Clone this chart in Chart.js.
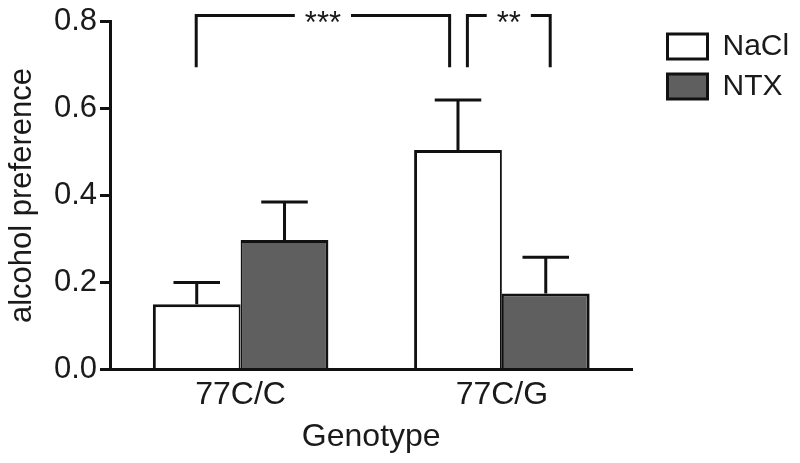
<!DOCTYPE html>
<html lang="en">
<head>
<meta charset="UTF-8">
<title>alcohol preference</title>
<script src="https://cdn.jsdelivr.net/npm/chart.js@4"></script>
<style>
  body { margin: 0; background: #fff; }
  #wrap { width: 800px; height: 463px; }
</style>
</head>
<body>
<div id="wrap"><canvas id="myChart" width="800" height="463"></canvas></div>

<script>
// values
const genotypes = ['77C/C', '77C/G'];
const nacl_mean = [0.150, 0.505];
const nacl_err  = [0.050, 0.115];
const ntx_mean  = [0.298, 0.175];
const ntx_err   = [0.087, 0.083];
const y_ticks   = [0.0, 0.2, 0.4, 0.6, 0.8];

// significance brackets (x in category-index units, y in data units)
const br_from = [-0.17, 0.868];
const br_to   = [0.80, 1.185];
const br_top  = [0.814, 0.814];
const br_foot = [0.695, 0.695];
const br_text = ['***', '**'];

const INK = '#111';
const TXT = '#1a1a1a';
Chart.defaults.font.family = '"Liberation Sans", Arial, Helvetica, sans-serif';

// only upward error bars, with caps
const errorBars = {
    id: 'errorBars',
    afterDatasetsDraw(chart) {
        const ctx = chart.ctx, y = chart.scales.y;
        const errs = [nacl_err, ntx_err];
        ctx.save();
        ctx.strokeStyle = INK;
        ctx.lineWidth = 3;
        chart.data.datasets.forEach((ds, i) => {
            chart.getDatasetMeta(i).data.forEach((bar, j) => {
                const top = y.getPixelForValue(ds.data[j] + errs[i][j]);
                const half = bar.width * 0.265;
                ctx.beginPath();
                ctx.moveTo(bar.x, bar.y);
                ctx.lineTo(bar.x, top);
                ctx.moveTo(bar.x - half, top);
                ctx.lineTo(bar.x + half, top);
                ctx.stroke();
            });
        });
        ctx.restore();
    }
};

// brackets with stars above the bars
const brackets = {
    id: 'brackets',
    afterDraw(chart) {
        const ctx = chart.ctx, x = chart.scales.x, y = chart.scales.y;
        ctx.save();
        ctx.strokeStyle = INK;
        ctx.fillStyle = TXT;
        ctx.lineWidth = 3;
        ctx.lineJoin = 'miter';
        ctx.font = '31px "Liberation Sans", Arial, sans-serif';
        ctx.textAlign = 'center';
        ctx.textBaseline = 'alphabetic';
        br_text.forEach((t, k) => {
            const x0 = x.getPixelForValue(br_from[k]);
            const x1 = x.getPixelForValue(br_to[k]);
            const yt = y.getPixelForValue(br_top[k]);
            const yb = y.getPixelForValue(br_foot[k]);
            const mid = (x0 + x1) / 2;
            const gap = ctx.measureText(t).width / 2 + 10;
            ctx.beginPath();
            ctx.moveTo(x0, yb); ctx.lineTo(x0, yt); ctx.lineTo(mid - gap, yt);
            ctx.moveTo(mid + gap, yt); ctx.lineTo(x1, yt); ctx.lineTo(x1, yb);
            ctx.stroke();
            ctx.fillText(t, mid, yt + 17);
        });
        ctx.restore();
    }
};

const data = {
    labels: genotypes,
    datasets: [{
        label: 'NaCl',
        data: nacl_mean,
        backgroundColor: '#ffffff',
        borderColor: INK,
        borderWidth: {top: 3, left: 3, right: 2, bottom: 0}
    }, {
        label: 'NTX',
        data: ntx_mean,
        backgroundColor: '#5f5f5f',
        borderColor: INK,
        borderWidth: {top: 3, left: 2, right: 3, bottom: 0}
    }]
};

const options = {
    responsive: false,
    animation: false,
    layout: {padding: {top: 20, right: 11, bottom: 2, left: 0}},
    datasets: {bar: {categoryPercentage: 0.672, barPercentage: 1.0}},
    plugins: {
        tooltip: {enabled: false},
        legend: {
            position: 'right',
            align: 'start',
            fullSize: false,
            labels: {
                color: TXT,
                font: {size: 30},
                boxWidth: 40,
                boxHeight: 25,
                padding: 10,
                generateLabels: chart => Chart.defaults.plugins.legend.labels
                    .generateLabels(chart).map(l => Object.assign(l, {lineWidth: 3}))
            }
        }
    },
    scales: {
        x: {
            grid: {display: false, drawTicks: false},
            border: {display: true, width: 3, color: INK},
            ticks: {color: TXT, font: {size: 32, lineHeight: 1.0}, padding: 10},
            title: {display: true, text: 'Genotype', color: TXT, font: {size: 32, lineHeight: 1.0}, padding: {top: 0, bottom: 7.5}}
        },
        y: {
            min: 0,
            max: 0.8,
            afterBuildTicks: s => { s.ticks = y_ticks.map(v => ({value: v})); },
            afterFit: s => { s.width = 110; },
            grid: {drawOnChartArea: false, drawTicks: true, tickLength: 10, lineWidth: 3, color: INK},
            border: {display: true, width: 3, color: INK},
            ticks: {color: TXT, font: {size: 31}, padding: 3, callback: v => Number(v).toFixed(1)},
            title: {display: true, text: 'alcohol preference', color: TXT, font: {size: 31}, padding: {top: 4, bottom: 4}}
        },
        // empty right axis, only keeps a gap between the plot and the legend
        gap: {
            type: 'linear',
            position: 'right',
            grid: {display: false},
            border: {display: false},
            ticks: {display: false},
            afterFit: s => { s.width = 25; }
        }
    }
};

new Chart(document.getElementById('myChart').getContext('2d'), {
    type: 'bar',
    data: data,
    options: options,
    plugins: [errorBars, brackets]
});
</script>
</body>
</html>
